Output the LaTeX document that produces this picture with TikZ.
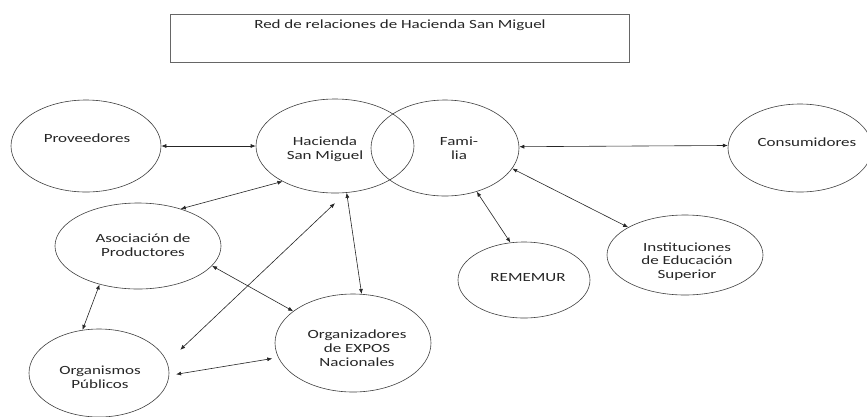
\documentclass[tikz,border=0pt]{standalone}
\usepackage{fontspec}
\setmainfont{Carlito}[FakeStretch=1.36]
\usepackage{tikz}
\usetikzlibrary{arrows.meta,shapes.geometric}
\tikzset{
  ent/.style={draw=black!75, line width=0.6pt, ellipse, inner sep=0pt},
  lbl/.style={align=center, inner sep=0pt, text=black!85,
    font=\fontsize{12.5}{13.8}\selectfont},
  rel/.style={{Latex[length=5pt,width=4pt]}-{Latex[length=5pt,width=4pt]},
    line width=0.6pt, draw=black!85}
}

\begin{document}
\begin{tikzpicture}[x=1pt,y=-1pt]
      \useasboundingbox (0,0) rectangle (867,416);
      \fill[white] (0,0) rectangle (867,416);

      \node[draw=black!60, line width=0.6pt, inner sep=0pt,
        minimum width=459, minimum height=48] (TIT) at (399.5,38) {};
      \node[lbl] (TITt) at (400,25) {Red de relaciones de Hacienda San Miguel};

      \node[ent, minimum width=150, minimum height=92] (PROV) at (86,146) {};
      \node[ent, minimum width=158, minimum height=94] (HSM) at (335,146) {};
      \node[ent, minimum width=148, minimum height=96] (FAM) at (445,148) {};
      \node[ent, minimum width=144, minimum height=88] (CONS) at (800,148) {};
      \node[ent, minimum width=166, minimum height=86] (ASOC) at (138,246) {};
      \node[ent, minimum width=140, minimum height=88] (ORGP) at (99,373) {};
      \node[ent, minimum width=156, minimum height=98] (EXPO) at (353,343) {};
      \node[ent, minimum width=132, minimum height=76] (REM) at (524,280) {};
      \node[ent, minimum width=156, minimum height=80] (IES) at (685,255) {};

      \node[lbl] (PROVt) at (87,138) {Proveedores};
      \node[lbl] (HSMt) at (325,149) {Hacienda\\San Miguel};
      \node[lbl] (FAMt) at (459,148) {Fami-\\lia};
      \node[lbl] (CONSt) at (807,142) {Consumidores};
      \node[lbl] (ASOCt) at (143,245.5) {Asociación de\\Productores};
      \node[lbl] (ORGPt) at (100,377) {Organismos\\Públicos};
      \node[lbl] (EXPOt) at (357,348) {Organizadores\\de EXPOS\\Nacionales};
      \node[lbl] (REMt) at (528,278) {REMEMUR};
      \node[lbl] (IESt) at (687,261.5) {Instituciones\\de Educación\\Superior};

      \draw[rel] (PROV.0) -- (HSM.180);
      \draw[rel] (HSM.214) -- (ASOC.41.5);
      \draw[rel] (HSM.-76) -- (EXPO.80);
      \draw[rel, shorten <=15pt, shorten >=18pt] (HSM.-77) -- (ORGP.9);
      \draw[rel] (ASOC.-15) -- (EXPO.152.7);
      \draw[rel] (ASOC.-135) -- (ORGP.111);
      \draw[rel, shorten <=7pt, shorten >=6pt] (ORGP.-2.6) -- (EXPO.191.4);
      \draw[rel] (FAM.1.5) -- (CONS.178.4);
      \draw[rel] (FAM.-17.9) -- (IES.154.7);
      \draw[rel] (FAM.-54.6) -- (REM.110);
    \end{tikzpicture}
\end{document}
